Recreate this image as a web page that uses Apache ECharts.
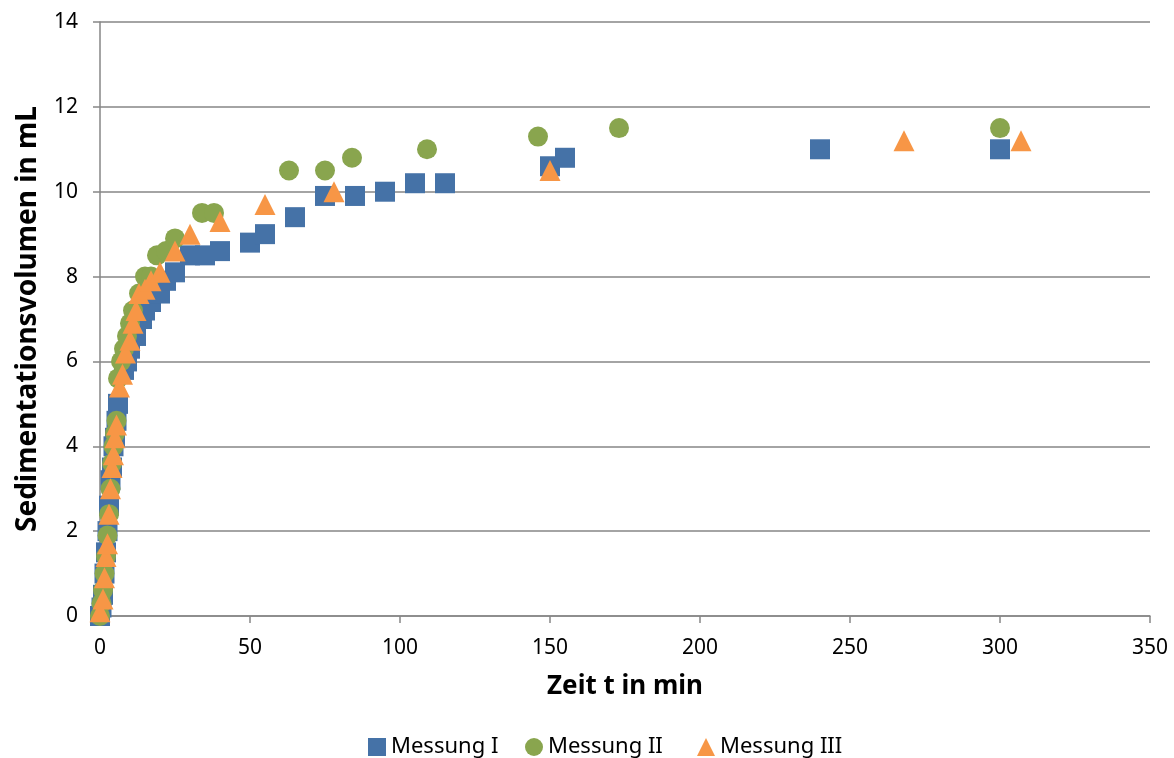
<!DOCTYPE html>
<html>
<head>
<meta charset="utf-8">
<script src="https://cdn.jsdelivr.net/npm/echarts@6/dist/echarts.min.js"></script>
<style>html,body{margin:0;padding:0;background:#fff;}#c{width:1174px;height:758px;}</style>
</head>
<body>
<div id="c"></div>
<script>
const seriesNames = ['Messung I', 'Messung II', 'Messung III'];
const xTicks = [0, 50, 100, 150, 200, 250, 300, 350];
const yTicks = [0, 2, 4, 6, 8, 10, 12, 14];
const messungI = [[0,0],[0.5,0.2],[1,0.5],[1.5,1.0],[2,1.5],[2.5,2.0],[3,2.6],[3.5,3.2],[4,3.5],[4.5,4.0],[5,4.2],[5.5,4.6],[6,5.0],[8,5.8],[9,6.0],[10,6.3],[12,6.6],[14,7.0],[15,7.2],[17,7.4],[20,7.6],[22,7.9],[25,8.1],[30,8.5],[35,8.5],[40,8.6],[50,8.8],[55,9.0],[65,9.4],[75,9.9],[85,9.9],[95,10.0],[105,10.2],[115,10.2],[150,10.6],[155,10.8],[240,11.0],[300,11.0]];
const messungII = [[0,0],[0.5,0.3],[1,0.6],[1.5,1.0],[2,1.4],[2.5,1.9],[3,2.4],[3.5,3.0],[4,3.6],[4.5,4.0],[5,4.3],[5.5,4.6],[6,5.6],[7,6.0],[8,6.3],[9,6.6],[10,6.9],[11,7.2],[13,7.6],[15,8.0],[17,8.0],[19,8.5],[22,8.6],[25,8.9],[34,9.5],[38,9.5],[63,10.5],[75,10.5],[84,10.8],[109,11.0],[146,11.3],[173,11.5],[300,11.5]];
const messungIII = [[0,0.1],[1,0.4],[1.5,0.9],[2,1.4],[2.5,1.7],[3,2.4],[3.5,3.0],[4,3.5],[4.5,3.8],[5,4.2],[5.5,4.5],[6.5,5.4],[7.5,5.7],[8.5,6.2],[10,6.5],[11,6.9],[12,7.2],[13,7.6],[15,7.7],[17,7.9],[20,8.1],[25,8.6],[30,9.0],[40,9.3],[55,9.7],[78,10.0],[150,10.5],[268,11.2],[307,11.2]];

const FONT = 'Noto Sans';
const chart = echarts.init(document.getElementById('c'), null, {renderer: 'canvas'});
const axisGray = '#868686';
const icons = ['rect', 'circle', 'triangle'];
const legendLefts = [368, 525, 697];
chart.setOption({
  animation: false,
  textStyle: {fontFamily: FONT},
  grid: {left: 100, right: 24, top: 22, bottom: 142, containLabel: false},
  xAxis: {
    type: 'value', min: xTicks[0], max: xTicks[xTicks.length-1], interval: 50,
    name: 'Zeit t in min', nameLocation: 'middle', nameGap: 58,
    nameTextStyle: {fontSize: 26, fontWeight: 'bold', color: '#000', fontFamily: FONT},
    axisLine: {show: true, lineStyle: {color: axisGray, width: 1.5}},
    axisTick: {show: true, length: 7, lineStyle: {color: axisGray, width: 1.5}},
    axisLabel: {fontSize: 21, color: '#000', margin: 22, fontFamily: FONT},
    splitLine: {show: false}
  },
  yAxis: {
    type: 'value', min: yTicks[0], max: yTicks[yTicks.length-1], interval: 2,
    name: 'Sedimentationsvolumen in mL', nameLocation: 'middle', nameGap: 58, nameRotate: 90,
    nameTextStyle: {fontSize: 28, fontWeight: 'bold', color: '#000', fontFamily: FONT},
    axisLine: {show: true, lineStyle: {color: axisGray, width: 1.5}},
    axisTick: {show: true, length: 7, lineStyle: {color: axisGray, width: 1.5}},
    axisLabel: {fontSize: 21, color: '#000', margin: 22, fontFamily: FONT},
    splitLine: {show: true, lineStyle: {color: axisGray, width: 1.5}}
  },
  legend: seriesNames.map((n, i) => ({
    top: 736, left: legendLefts[i], itemWidth: 18, itemHeight: 18, itemGap: 0, padding: 0,
    textStyle: {fontSize: 22, color: '#000', fontFamily: FONT},
    data: [{name: n, icon: icons[i]}]
  })),
  series: [
    {name: seriesNames[0], type: 'scatter', data: messungI, symbol: 'rect', symbolSize: 20, itemStyle: {color: '#4572A7', opacity: 1}},
    {name: seriesNames[1], type: 'scatter', data: messungII, symbol: 'circle', symbolSize: 20, itemStyle: {color: '#89A54E', opacity: 1}},
    {name: seriesNames[2], type: 'scatter', data: messungIII, symbol: 'triangle', symbolSize: 21, itemStyle: {color: '#F79646', opacity: 1}}
  ]
});
</script>
</body>
</html>
